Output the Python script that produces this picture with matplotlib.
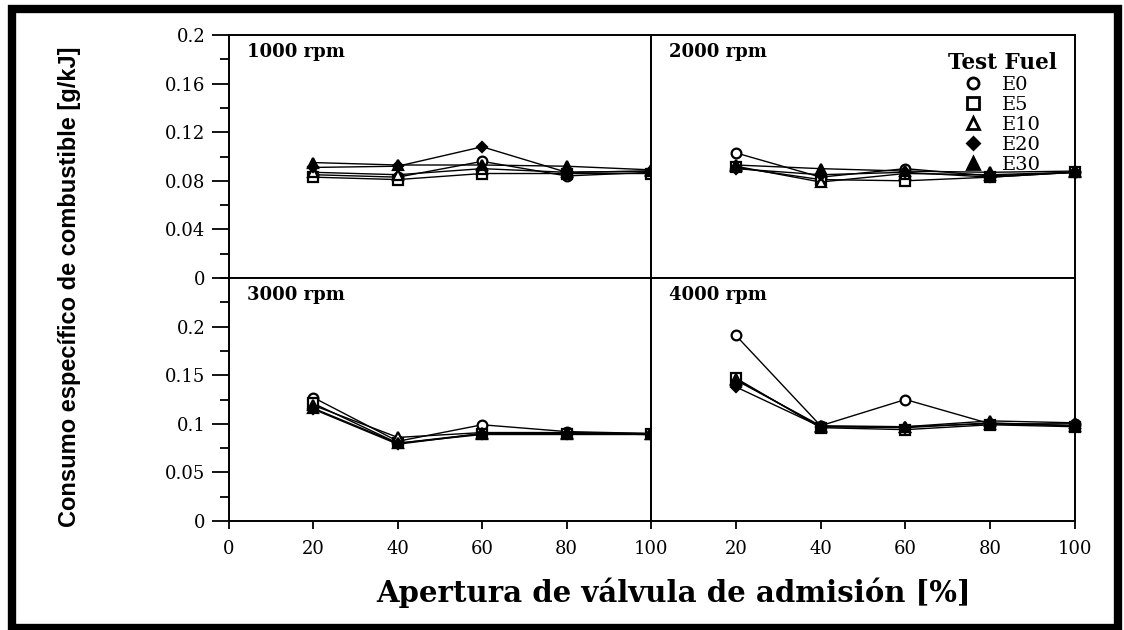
import numpy as np
import matplotlib.pyplot as plt
from matplotlib.lines import Line2D
from matplotlib.patches import Rectangle
from matplotlib.ticker import MultipleLocator

# apertura de la valvula de admision [%]
apertura = [20, 40, 60, 80, 100]

combustibles = ['E0', 'E5', 'E10', 'E20', 'E30']
marcadores = ['o', 's', '^', 'D', '^']
relleno = ['white', 'white', 'white', 'black', 'black']
tam_marcador = [7, 7, 7, 5.5, 7]

# consumo especifico de combustible [g/kJ] por regimen y mezcla
csc_1000 = {
    'E0':  [0.085, 0.083, 0.096, 0.084, 0.087],
    'E5':  [0.083, 0.081, 0.086, 0.086, 0.086],
    'E10': [0.087, 0.085, 0.090, 0.087, 0.088],
    'E20': [0.091, 0.092, 0.108, 0.087, 0.088],
    'E30': [0.095, 0.093, 0.093, 0.092, 0.089],
}
csc_2000 = {
    'E0':  [0.103, 0.083, 0.090, 0.084, 0.087],
    'E5':  [0.091, 0.081, 0.080, 0.083, 0.087],
    'E10': [0.092, 0.079, 0.086, 0.085, 0.087],
    'E20': [0.090, 0.085, 0.087, 0.083, 0.087],
    'E30': [0.093, 0.090, 0.088, 0.087, 0.088],
}
csc_3000 = {
    'E0':  [0.127, 0.082, 0.099, 0.092, 0.090],
    'E5':  [0.121, 0.080, 0.090, 0.090, 0.089],
    'E10': [0.119, 0.086, 0.091, 0.091, 0.090],
    'E20': [0.115, 0.079, 0.090, 0.090, 0.089],
    'E30': [0.116, 0.080, 0.089, 0.089, 0.089],
}
csc_4000 = {
    'E0':  [0.191, 0.098, 0.125, 0.100, 0.100],
    'E5':  [0.147, 0.096, 0.094, 0.099, 0.097],
    'E10': [0.145, 0.098, 0.097, 0.103, 0.101],
    'E20': [0.138, 0.097, 0.096, 0.101, 0.098],
    'E30': [0.146, 0.097, 0.097, 0.100, 0.098],
}

yticks_sup = [0, 0.04, 0.08, 0.12, 0.16, 0.2]
ylabels_sup = ['0', '0.04', '0.08', '0.12', '0.16', '0.2']
yticks_inf = [0, 0.05, 0.1, 0.15, 0.2]
ylabels_inf = ['0', '0.05', '0.1', '0.15', '0.2']

serif = 'DejaVu Serif'

W, H = 1124, 630
fig = plt.figure(figsize=(W / 100, H / 100), dpi=100)

x0, xm, x1 = 229 / W, 651 / W, 1075 / W
ysup, ymid, yinf = 1 - 35 / H, 1 - 278 / H, 1 - 521 / H

ax1 = fig.add_axes([x0, ymid, xm - x0, ysup - ymid])
ax2 = fig.add_axes([xm, ymid, x1 - xm, ysup - ymid])
ax3 = fig.add_axes([x0, yinf, xm - x0, ymid - yinf])
ax4 = fig.add_axes([xm, yinf, x1 - xm, ymid - yinf])

paneles = [(ax1, csc_1000, '1000 rpm'), (ax2, csc_2000, '2000 rpm'),
           (ax3, csc_3000, '3000 rpm'), (ax4, csc_4000, '4000 rpm')]

for ax, datos, rpm in paneles:
    for c, m, fc, ms in zip(combustibles, marcadores, relleno, tam_marcador):
        ax.plot(apertura, datos[c], color='black', lw=1.0, marker=m, ms=ms,
                mfc=fc, mec='black', mew=1.6, clip_on=False, zorder=3)
    ax.set_xlim(0, 100)
    for s in ax.spines.values():
        s.set_linewidth(1.4)
    ax.text(0.043, 0.93, rpm, transform=ax.transAxes, ha='left', va='center',
            fontsize=13, fontweight='bold', family=serif)

ax1.set_ylim(0, 0.2)
ax2.set_ylim(0, 0.2)
ax3.set_ylim(0, 0.25)
ax4.set_ylim(0, 0.25)

# eje y solo en los paneles de la izquierda
ax1.set_yticks(yticks_sup)
ax1.set_yticklabels(ylabels_sup)
ax1.yaxis.set_minor_locator(MultipleLocator(0.02))
ax3.set_yticks(yticks_inf)
ax3.set_yticklabels(ylabels_inf)
ax3.yaxis.set_minor_locator(MultipleLocator(0.025))
for ax in [ax1, ax3]:
    ax.tick_params(axis='y', which='major', direction='out', length=12, width=1.3,
                   pad=5, labelsize=13)
    ax.tick_params(axis='y', which='minor', direction='out', length=6.5, width=1.3)
    for t in ax.get_yticklabels():
        t.set_family(serif)
for ax in [ax2, ax4]:
    ax.tick_params(axis='y', which='both', left=False, labelleft=False)

# eje x solo en los paneles de abajo
for ax in [ax1, ax2]:
    ax.tick_params(axis='x', which='both', bottom=False, labelbottom=False)
ax3.set_xticks([0, 20, 40, 60, 80, 100])
ax4.set_xticks([20, 40, 60, 80, 100])
for ax in [ax3, ax4]:
    ax.tick_params(axis='x', direction='out', length=6, width=1.3, pad=8, labelsize=13)
    for t in ax.get_xticklabels():
        t.set_family(serif)

# leyenda
handles = [Line2D([], [], ls='None', marker=m, ms=ms + 1, mfc=fc, mec='black', mew=2,
                  color='black')
           for m, fc, ms in zip(marcadores, relleno, tam_marcador)]
leg = ax2.legend(handles, combustibles, title='Test Fuel', loc='upper right',
                 bbox_to_anchor=(0.99, 0.985), frameon=False, handlelength=0.8,
                 handletextpad=1.1, labelspacing=0.1, borderpad=0.2,
                 prop={'family': serif, 'size': 14},
                 title_fontproperties={'family': serif, 'size': 15.5, 'weight': 'bold'})

fig.text(674 / W, 1 - 593 / H, 'Apertura de válvula de admisión [%]',
         ha='center', va='center', fontsize=21, fontweight='bold', family=serif)
fig.text(70 / W, 1 - 287 / H, 'Consumo específico de combustible [g/kJ]',
         ha='center', va='center', rotation=90, fontsize=17, fontweight='bold',
         family=['Liberation Sans', 'DejaVu Sans'])

# marco exterior
fig.patches.append(Rectangle((12 / W, 2 / H), (1118 - 12) / W, (621 - 2) / H,
                             transform=fig.transFigure, fill=False,
                             edgecolor='black', lw=6))

fig.savefig('out.png', dpi=100)
